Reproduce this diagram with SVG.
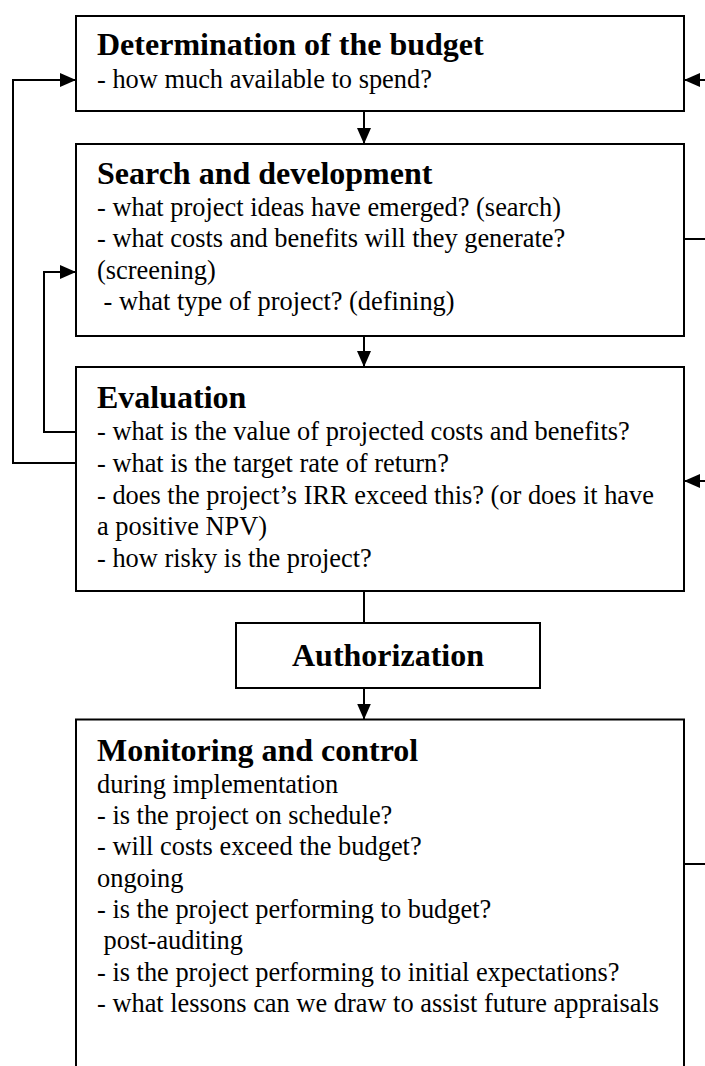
<svg xmlns="http://www.w3.org/2000/svg" width="705" height="1066" viewBox="0 0 705 1066">
<style>
.box{fill:#fff;stroke:#000;stroke-width:2}
.h{font-family:"Liberation Serif","Times New Roman",serif;font-weight:bold;font-size:32px;fill:#000}
.t{font-family:"Liberation Serif","Times New Roman",serif;font-size:26.4px;fill:#000}
.c{fill:none;stroke:#000;stroke-width:2}
</style>
<defs>
<marker id="arr" markerUnits="userSpaceOnUse" markerWidth="16" markerHeight="14" refX="16" refY="7" orient="auto">
<path d="M0,0 L16,7 L0,14 z" fill="#000"/>
</marker>
</defs>
<rect x="0" y="0" width="705" height="1066" fill="#fff"/>

<g id="connectors">
<line class="c" x1="364" y1="111" x2="364" y2="144" marker-end="url(#arr)"/>
<line class="c" x1="364" y1="336" x2="364" y2="367" marker-end="url(#arr)"/>
<line class="c" x1="364" y1="591" x2="364" y2="623"/>
<line class="c" x1="364" y1="688" x2="364" y2="719.5" marker-end="url(#arr)"/>
<polyline class="c" points="76,463 13,463 13,80 76,80" marker-end="url(#arr)"/>
<polyline class="c" points="76,432 44,432 44,272 76,272" marker-end="url(#arr)"/>
<line class="c" x1="705" y1="80" x2="684" y2="80" marker-end="url(#arr)"/>
<line class="c" x1="684" y1="239" x2="705" y2="239"/>
<line class="c" x1="705" y1="481" x2="684" y2="481" marker-end="url(#arr)"/>
<line class="c" x1="684" y1="864" x2="705" y2="864"/>
</g>

<g id="budget">
<rect class="box" x="76" y="16" width="608" height="95"/>
<text class="h" x="97" y="55">Determination of the budget</text>
<text class="t" x="97" y="88">- how much available to spend?</text>
</g>

<g id="search">
<rect class="box" x="76" y="144" width="608" height="192"/>
<text class="h" x="97" y="184">Search and development</text>
<text class="t" x="97" y="216">- what project ideas have emerged? (search)</text>
<text class="t" x="97" y="247">- what costs and benefits will they generate?</text>
<text class="t" x="97" y="278.5">(screening)</text>
<text class="t" x="97" y="310" xml:space="preserve"> - what type of project? (defining)</text>
</g>

<g id="evaluation">
<rect class="box" x="76" y="367" width="608" height="224"/>
<text class="h" x="97" y="408">Evaluation</text>
<text class="t" x="97" y="440">- what is the value of projected costs and benefits?</text>
<text class="t" x="97" y="471.5">- what is the target rate of return?</text>
<text class="t" x="97" y="503.5">- does the project’s IRR exceed this? (or does it have</text>
<text class="t" x="97" y="535">a positive NPV)</text>
<text class="t" x="97" y="566.5">- how risky is the project?</text>
</g>

<g id="authorization">
<rect class="box" x="236" y="623" width="304" height="65"/>
<text class="h" x="388" y="666" text-anchor="middle">Authorization</text>
</g>

<g id="monitoring">
<rect class="box" x="76" y="719.5" width="608" height="370"/>
<text class="h" x="97" y="761">Monitoring and control</text>
<text class="t" x="97" y="792.5">during implementation</text>
<text class="t" x="97" y="824">- is the project on schedule?</text>
<text class="t" x="97" y="855">- will costs exceed the budget?</text>
<text class="t" x="97" y="886.5">ongoing</text>
<text class="t" x="97" y="918">- is the project performing to budget?</text>
<text class="t" x="97" y="949" xml:space="preserve"> post-auditing</text>
<text class="t" x="97" y="980.5">- is the project performing to initial expectations?</text>
<text class="t" x="97" y="1012">- what lessons can we draw to assist future appraisals</text>
</g>
</svg>
